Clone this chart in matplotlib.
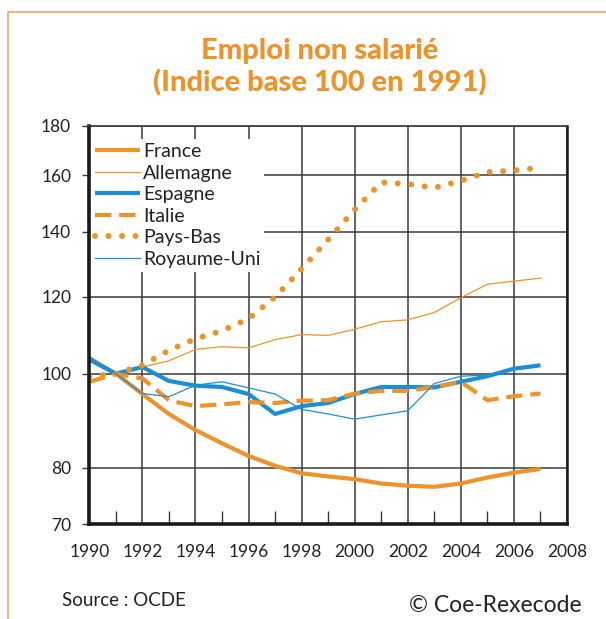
import numpy as np
import matplotlib.pyplot as plt
from matplotlib.lines import Line2D
from matplotlib.ticker import FixedLocator, NullLocator, FixedFormatter

years = list(range(1990, 2008))

france = [103.7, 100.0, 95.3, 90.9, 87.5, 84.8, 82.3, 80.4, 79.0, 78.4,
          77.9, 77.1, 76.7, 76.5, 77.1, 78.2, 79.1, 79.8]
allemagne = [103.7, 100.0, 101.6, 103.1, 105.9, 106.6, 106.3, 108.4, 109.7, 109.5,
             111.1, 113.1, 113.6, 115.6, 119.7, 123.6, 124.5, 125.4]
espagne = [103.4, 100.0, 101.6, 98.3, 97.2, 96.9, 95.3, 90.9, 92.6, 93.3,
           95.3, 96.9, 96.9, 96.8, 98.1, 99.4, 101.2, 102.0]
italie = [98.1, 99.9, 98.9, 93.9, 92.6, 93.0, 93.5, 93.3, 93.8, 93.9,
          95.4, 96.0, 96.0, 96.9, 98.1, 93.9, 94.8, 95.4]
pays_bas = [99.3, 100.0, 102.0, 105.7, 108.6, 110.7, 113.9, 119.9, 128.2, 137.4,
            147.5, 157.3, 156.7, 155.3, 157.9, 161.2, 161.8, 162.9]
royaume_uni = [104.1, 100.0, 95.4, 94.7, 97.3, 98.1, 96.7, 95.3, 91.9, 90.9,
               89.8, 90.7, 91.6, 97.7, 99.4, 99.7]
years_uk = years[:len(royaume_uni)]

yticks = [70, 80, 100, 120, 140, 160, 180]
xticks = list(range(1990, 2010, 2))

orange = '#EE922A'
blue = '#1A8FD6'
txt = '#222222'

plt.rcParams['font.family'] = ['Lato', 'DejaVu Sans']

fig = plt.figure(figsize=(6.06, 6.19), dpi=100)
W, H = 606, 619
ax = fig.add_axes([89.3 / W, 1 - 524.3 / H, (567 - 89.3) / W, (524.3 - 125.5) / H])

ax.plot(years, france, color=orange, lw=3.0, label='France', solid_capstyle='butt')
ax.plot(years, allemagne, color=orange, lw=0.9, label='Allemagne')
ax.plot(years, espagne, color=blue, lw=3.0, label='Espagne', solid_capstyle='butt')
ax.plot(years, italie, color=orange, lw=3.0, linestyle=(0, (3.9, 1.9)), label='Italie')
ax.plot(years, pays_bas, color=orange, lw=4.3, linestyle=(0, (0.01, 2.25)),
        dash_capstyle='round', label='Pays-Bas')
ax.plot(years_uk, royaume_uni, color=blue, lw=0.9, label='Royaume-Uni')

ax.set_yscale('log')
ax.set_ylim(70, 180)
ax.set_xlim(1990, 2008)
ax.yaxis.set_major_locator(FixedLocator(yticks))
ax.yaxis.set_major_formatter(FixedFormatter([str(v) for v in yticks]))
ax.yaxis.set_minor_locator(NullLocator())
ax.set_xticks(xticks)
ax.set_xticklabels([str(v) for v in xticks])
ax.set_xticks(list(range(1991, 2008, 2)), minor=True)

ax.grid(True, which='major', color='#3a3a3a', lw=1.1)
ax.set_axisbelow(True)
ax.tick_params(axis='x', which='major', length=0, pad=14, labelsize=12.5, labelcolor=txt)
ax.tick_params(axis='x', which='minor', direction='in', length=9.5, width=1.0, color='#3a3a3a')
ax.tick_params(axis='y', which='major', direction='out', length=5, width=1.0,
               color='#3a3a3a', labelsize=12.5, labelcolor=txt, pad=8)

ax.spines['left'].set_linewidth(2.6)
ax.spines['bottom'].set_linewidth(2.6)
ax.spines['right'].set_linewidth(1.8)
ax.spines['top'].set_linewidth(1.2)
for s in ['left', 'bottom', 'right']:
    ax.spines[s].set_color('#1a1a1a')
ax.spines['top'].set_color('#3a3a3a')

leg = ax.legend(loc='upper left', bbox_to_anchor=(0.0, 0.97), borderaxespad=0.1,
                frameon=True, fancybox=False, framealpha=1, edgecolor='none',
                facecolor='white', fontsize=14, handlelength=2.3, handletextpad=0.15,
                labelspacing=0.23, borderpad=0.2)
for t in leg.get_texts():
    t.set_color(txt)

fig.text(320 / W, 1 - 51 / H, 'Emploi non salarié', ha='center', va='center',
         fontsize=21, fontweight='black', color=orange)
fig.text(320 / W, 1 - 83 / H, '(Indice base 100 en 1991)', ha='center', va='center',
         fontsize=21, fontweight='black', color=orange)

fig.text(62 / W, 1 - 601 / H, 'Source : OCDE', ha='left', va='center', fontsize=13.5, color=txt)
fig.text(582 / W, 1 - 606 / H, '© Coe-Rexecode', ha='right', va='center', fontsize=16.5, color=txt)

fig.add_artist(Line2D([8 / W, 8 / W, 1], [0, 1 - 12 / H, 1 - 12 / H],
                      transform=fig.transFigure, color='#F5A65B', lw=1.2))

fig.savefig('out.png', dpi=100)
